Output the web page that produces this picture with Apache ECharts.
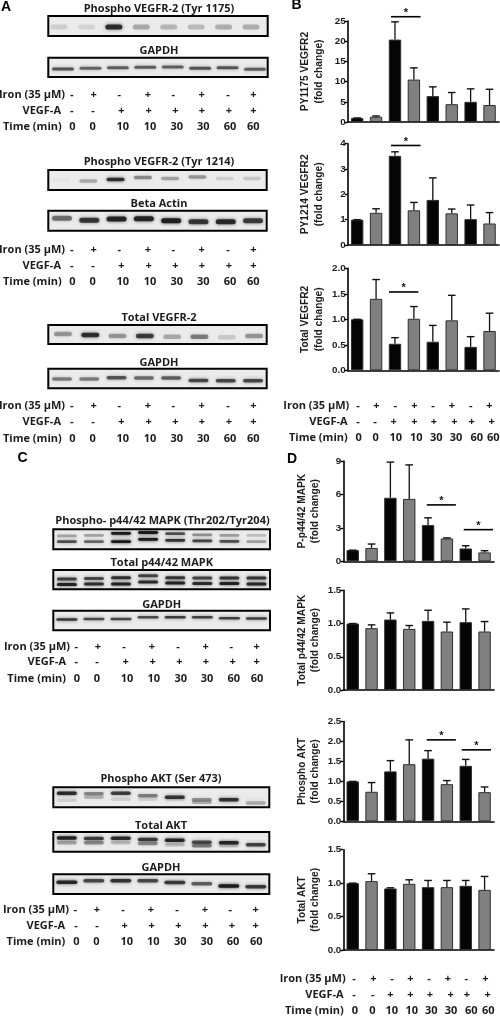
<!DOCTYPE html>
<html><head><meta charset="utf-8">
<style>html,body{margin:0;padding:0;background:#fff}#c{width:500px;height:1017px}</style>
<script src="https://cdn.jsdelivr.net/npm/echarts@6/dist/echarts.min.js"></script>
</head><body><div id="c"></div>
<script>
// ---------- DATA ----------
const lanes = ['0','0','10','10','30','30','60','60'];
const ironRow = ['-','+','-','+','-','+','-','+'];
const vegfRow = ['-','-','+','+','+','+','+','+'];
const timeRow = ['0','0','10','10','30','30','60','60'];

const py1175 = [1,1.3,20.4,10.5,6.4,4.4,5,4.2];
const py1175Err = [1,1.5,24.8,13.4,8.7,7.3,8.2,8.1];
const py1214 = [1,1.27,3.52,1.37,1.78,1.25,1.02,.85];
const py1214Err = [1,1.43,3.68,1.68,2.65,1.42,1.58,1.28];
const totalVegfr = [1,1.4,.52,1.01,.56,.98,.46,.77];
const totalVegfrErr = [1,1.78,.64,1.25,.88,1.47,.66,1.12];
const pMapk = [1,1.2,5.7,5.6,3.25,2.05,1.15,.8];
const pMapkErr = [1,1.55,8.9,8.65,3.9,2.1,1.4,.95];
const totalMapk = [1,.93,1.06,.92,1.04,.88,1.02,.88];
const totalMapkErr = [1,.98,1.16,.97,1.2,1.02,1.22,1.03];
const pAkt = [1,.74,1.25,1.43,1.57,.93,1.39,.73];
const pAktErr = [1,.97,1.52,2.04,1.77,1.02,1.55,.86];
const totalAkt = [1,1.03,.92,.99,.94,.94,.96,.9];
const totalAktErr = [1,1.14,.93,1.05,1.04,1.04,1.04,1.1];

// band darkness per lane, read from the blots
const bandP1175 = [.12,.1,.8,.28,.22,.2,.25,.25];
const bandGapdhA = [.62,.55,.58,.58,.58,.62,.62,.58];
const bandP1214 = [.03,.28,.8,.4,.3,.36,.12,.15];
const bandActin = [.5,.75,.85,.85,.88,.75,.82,.72];
const bandTotalV = [.35,.8,.35,.72,.28,.45,.15,.35];
const bandGapdhB = [.45,.45,.62,.52,.58,.68,.68,.68];
const bandPMapkUp = [.3,.3,.95,.95,.65,.38,.33,.2];
const bandPMapkLow = [.65,.55,.95,.95,.8,.7,.65,.32];
const bandTMapkUp = [.72,.68,.8,.7,.78,.7,.78,.78];
const bandTMapkLow = [.88,.8,.88,.82,.88,.82,.88,.85];
const bandGapdhC = [.78,.68,.7,.68,.75,.72,.72,.72];
const bandPAkt = [.82,.42,.72,.45,.78,.38,.78,.28];
const bandPAktSmear = [.12,.22,.12,.1,.05,.25,.05,.02];
const bandTAkt = [.88,.72,.82,.75,.85,.68,.85,.68];
const bandTAktLow = [.3,.4,.2,.4,.2,.45,.15,.1];
const bandGapdhD = [.85,.68,.78,.68,.75,.58,.92,.75];

// ---------- LAYOUT / STYLE ----------
const BLACK='#050505', GRAY='#808080', EDGE='#2e2e2e';
const LEFTFONT='"Open Sans"', RIGHTFONT='"Liberation Sans"';
const yPosA=[.55,.55,.55,.55,.55,.55,.55,.55];
const blots=[
 {t:'Phospho VEGFR-2 (Tyr 1175)',ty:9,cx:159,box:[48.3,16,219.4,20],dx:-3,w:17,h:5,rows:[{v:bandP1175,y:yPosA}]},
 {t:'GAPDH',ty:51,cx:159,box:[48.3,57.7,219.4,19.3],dx:1,w:22,h:3,rows:[{v:bandGapdhA,y:[.58,.55,.52,.5,.48,.55,.52,.6]}]},
 {t:'Phospho VEGFR-2 (Tyr 1214)',ty:162,cx:159,box:[48.3,170,218.4,20],dx:-1,w:18,h:3.5,rows:[{v:bandP1214,y:[.5,.55,.48,.38,.42,.35,.42,.42]}]},
 {t:'Beta Actin',ty:204.3,cx:159,box:[48.3,210.7,218.4,20],dx:0,w:20,h:5,rows:[{v:bandActin,y:[.38,.48,.42,.4,.5,.55,.55,.5]}]},
 {t:'Total VEGFR-2',ty:318.3,cx:159,box:[48.3,325,218.4,19],dx:1,w:18,h:4.5,rows:[{v:bandTotalV,y:[.48,.52,.58,.58,.62,.62,.65,.58]}]},
 {t:'GAPDH',ty:362.7,cx:159,box:[48.3,368.7,218.4,19.6],dx:0,w:20,h:3.5,rows:[{v:bandGapdhB,y:[.52,.52,.46,.48,.48,.6,.62,.62]}]},
 {t:'Phospho- p44/42 MAPK (Thr202/Tyr204)',ty:520.7,cx:162.5,box:[53.3,529.3,216.7,20],dx:0,w:20,h:2.8,rows:[{v:bandPMapkUp,y:[.33,.3,.2,.16,.22,.28,.3,.3]},{v:bandPMapkLow,y:[.62,.62,.62,.5,.55,.58,.6,.62]}]},
 {t:'Total p44/42 MAPK',ty:562.7,cx:161.7,box:[53.3,570,216.7,19.3],dx:0,w:20,h:3,rows:[{v:bandTMapkUp,y:[.47,.44,.4,.3,.4,.42,.42,.42]},{v:bandTMapkLow,y:[.75,.72,.72,.62,.68,.7,.7,.72]}]},
 {t:'GAPDH',ty:605,cx:161.7,box:[53.3,610.7,216.7,19.6],dx:0,w:21,h:2.5,rows:[{v:bandGapdhC,y:[.45,.42,.42,.34,.34,.34,.38,.4]}]},
 {t:'Phospho AKT (Ser 473)',ty:779,cx:161,box:[53.3,787.3,216,20],dx:0,w:20,h:3.5,rows:[{v:bandPAktSmear,y:[.65,.5,.6,.6,.6,.75,.6,.6]},{v:bandPAkt,y:[.3,.32,.3,.42,.5,.62,.62,.78]}]},
 {t:'Total AKT',ty:826,cx:161,box:[53.3,832,216,19.7],dx:0,w:20,h:3.5,rows:[{v:bandTAktLow,y:[.55,.55,.55,.58,.65,.7,.7,.65]},{v:bandTAkt,y:[.3,.33,.32,.38,.42,.52,.55,.65]}]},
 {t:'GAPDH',ty:868.3,cx:161,box:[53.3,874.3,216,19.7],dx:0,w:21,h:3.5,rows:[{v:bandGapdhD,y:[.4,.33,.33,.33,.42,.48,.6,.63]}]}
];
const rowBlocks=[
 {f:LEFTFONT,ly:[94.7,110.7,126.7],lx:[65,61,61.7],iron:[71.7,93.7,119.3,148,173.3,201.7,228,253.3],vegf:[71.7,93,121.3,148.7,175.3,202,229,253.3],time:[72.3,92.7,122.7,150,176.7,203.3,230,253.3]},
 {f:LEFTFONT,ly:[250,265.7,282.3],lx:[65,61,61.7],iron:[71.7,93.7,119.3,148,173.3,201.7,228,253.3],vegf:[71.7,93,121.3,148.7,175.3,202,229,253.3],time:[72.3,92.7,122.7,150,176.7,203.3,230,253.3]},
 {f:LEFTFONT,ly:[405.7,421.7,438.7],lx:[65,61,61.7],iron:[71.7,93.7,119.3,148,173.3,201.7,228,253.3],vegf:[71.7,93,121.3,148.7,175.3,202,229,253.3],time:[72.3,92.7,122.7,150,176.7,203.3,230,253.3]},
 {f:LEFTFONT,ly:[646.7,662.3,679],lx:[70,66,66],iron:[76.3,98,124,152,178,205.7,231.3,256.7],vegf:[76.3,97,125.7,152.7,179.3,206,232.7,256.7],time:[77,97,127,153.7,180.7,207,233.7,257]},
 {f:LEFTFONT,ly:[910,925.7,942],lx:[69,65,65.3],iron:[75.3,97,123,151,177,205,230.3,255.7],vegf:[76,97,124.7,151.7,178.3,205.3,232,255.7],time:[76.3,96.3,126.7,153.3,180.3,206.7,233,256.3]},
 {f:LEFTFONT,ly:[406,422,438.3],lx:[349.3,347.7,347.7],iron:[358,376.3,395.3,414.3,433,452,470.7,489.3],vegf:[358,375,393.7,414.3,434,454.3,471.7,491.7],time:[358.7,375.7,395.7,416.3,436.3,456,476.7,493.3]},
 {f:LEFTFONT,ly:[979.3,995.3,1011],lx:[345.7,343.7,343.7],iron:[354,373.3,392,410.3,429,448,466.3,485.3],vegf:[354,372.7,390.3,410.3,430,450.7,467,487.7],time:[355,372.3,391.7,411.7,431.3,451,471.3,488.3]}
];
const letters=[['A',6,7],['B',296.5,5],['C',22.5,458.5],['D',292,459]];
const plots=[
 {name:'PY1175 VEGFR2\n(fold change)',v:py1175,e:py1175Err,max:25,step:5,dec:0,box:[347.7,21,151.3,101],gap:22,
  sig:[[2,3,26.06]],sigOff:[[-4,6.7]]},
 {name:'PY1214 VEGFR2\n(fold change)',v:py1214,e:py1214Err,max:4,step:1,dec:0,box:[347.7,143.7,151.3,101.3],gap:22,
  sig:[[2,3,3.93]],sigOff:[[-4,6.7]]},
 {name:'Total VEGFR2\n(fold change)',v:totalVegfr,e:totalVegfrErr,max:2,step:.5,dec:1,box:[347.7,268.3,151.3,102],gap:22,
  sig:[[2,3,1.536]],sigOff:[[-6,4.4]]},
 {name:'P-p44/42 MAPK\n(fold change)',v:pMapk,e:pMapkErr,max:9,step:3,dec:0,box:[343.3,461,150.7,100.3],gap:21,
  sig:[[4,5,5.06],[6,7,2.84]],sigOff:[[-1.3,9],[-2,8.4]]},
 {name:'Total p44/42 MAPK\n(fold change)',v:totalMapk,e:totalMapkErr,max:1.5,step:.5,dec:1,box:[343.3,590.3,150.7,99.7],gap:21,sig:[],sigOff:[]},
 {name:'Phospho AKT\n(fold change)',v:pAkt,e:pAktErr,max:2.5,step:.5,dec:1,box:[343.3,721.5,150.7,99.8],gap:21,
  sig:[[4,5,2.04],[6,7,1.79]],sigOff:[[-1.3,9],[-4,6.4]]},
 {name:'Total AKT\n(fold change)',v:totalAkt,e:totalAktErr,max:1.5,step:.5,dec:1,box:[343.3,849.7,150.7,100.3],gap:21,sig:[],sigOff:[]}
];

// ---------- BUILD ----------
const grids=[],xAxes=[],yAxes=[],series=[],gfx=[];
const TXT='#1c1c1c';
function text(s,x,y,o){gfx.push({type:'text',silent:true,z:20,style:Object.assign({text:s,x:x,y:y,fill:TXT,fontWeight:'bold',fontSize:10,fontFamily:LEFTFONT,textAlign:'center',textVerticalAlign:'middle'},o||{})});}

plots.forEach(p=>{
 const i=grids.length;
 grids.push({left:p.box[0],top:p.box[1],width:p.box[2],height:p.box[3],containLabel:false});
 xAxes.push({type:'category',gridIndex:i,data:lanes,axisLabel:{show:false},
  axisLine:{lineStyle:{color:'#000',width:1.6}},axisTick:{alignWithLabel:true,length:2.5,lineStyle:{color:'#000',width:1.2}}});
 yAxes.push({type:'value',gridIndex:i,min:0,max:p.max,interval:p.step,splitLine:{show:false},
  name:p.name,nameLocation:'middle',nameRotate:90,nameGap:p.gap,
  nameTextStyle:{fontFamily:RIGHTFONT,fontWeight:'bold',fontSize:10.2,color:TXT,lineHeight:13.5},
  axisLine:{show:true,lineStyle:{color:'#000',width:1.6}},axisTick:{show:true,length:3,lineStyle:{color:'#000',width:1.4}},
  axisLabel:{margin:2,fontFamily:RIGHTFONT,fontWeight:'bold',fontSize:9.8,color:TXT,formatter:v=>v.toFixed(p.dec)}});
 series.push({type:'bar',xAxisIndex:i,yAxisIndex:i,data:p.v,barWidth:12.4,silent:true,animation:false,
  itemStyle:{color:c=>c.dataIndex%2?GRAY:BLACK,borderColor:EDGE,borderWidth:1}});
 series.push({type:'custom',xAxisIndex:i,yAxisIndex:i,silent:true,animation:false,z:3,
  data:p.e.map((e,k)=>[k,p.v[k],e]),encode:{x:0,y:2},
  renderItem:(ps,api)=>{
   const a=api.coord([api.value(0),api.value(1)]),b=api.coord([api.value(0),api.value(2)]);
   return {type:'group',children:[
    {type:'line',shape:{x1:a[0],y1:a[1],x2:b[0],y2:b[1]},style:{stroke:'#111',lineWidth:1.3}},
    {type:'line',shape:{x1:b[0]-3.8,y1:b[1],x2:b[0]+3.8,y2:b[1]},style:{stroke:'#111',lineWidth:1.4}}]};
  }});
 if(p.sig.length) series.push({type:'custom',xAxisIndex:i,yAxisIndex:i,silent:true,animation:false,z:4,
  data:p.sig,encode:{x:0,y:2},
  renderItem:(ps,api)=>{
   const off=p.sigOff[ps.dataIndex];
   const a=api.coord([api.value(0),api.value(2)]),b=api.coord([api.value(1),api.value(2)]);
   const x1=a[0]+off[0],x2=b[0]+off[1],y=a[1];
   return {type:'group',children:[
    {type:'line',shape:{x1:x1,y1:y,x2:x2,y2:y},style:{stroke:'#000',lineWidth:1.6}},
    {type:'text',style:{text:'*',x:(x1+x2)/2,y:y+2,fill:'#111',fontSize:11,fontWeight:'bold',fontFamily:RIGHTFONT,textAlign:'center',textVerticalAlign:'bottom'}}]};
  }});
});

blots.forEach(b=>{
 const i=grids.length;
 grids.push({show:true,left:b.box[0],top:b.box[1],width:b.box[2],height:b.box[3],backgroundColor:'#ebebeb',borderColor:'#000',borderWidth:2});
 xAxes.push({type:'category',gridIndex:i,show:false,data:lanes});
 yAxes.push({type:'value',gridIndex:i,show:false,min:0,max:1,inverse:true,splitLine:{show:false}});
 b.rows.forEach(r=>{
  series.push({type:'custom',xAxisIndex:i,yAxisIndex:i,silent:true,animation:false,
   data:r.v.map((v,k)=>[k,r.y[k],v]),encode:{x:0,y:1},
   renderItem:(ps,api)=>{
    const c=api.coord([api.value(0),api.value(1)]),d=api.value(2);
    const col='rgba(20,20,20,'+d+')';
    return {type:'rect',shape:{x:c[0]+b.dx-b.w/2,y:c[1]-b.h/2,width:b.w,height:b.h,r:b.h/2},
     style:{fill:col,shadowBlur:3.5,shadowColor:col}};
   }});
 });
 text(b.t,b.cx,b.ty,{fontSize:11});
});

rowBlocks.forEach(r=>{
 const f={fontFamily:r.f,fontSize:11};
 ['Iron (35 µM)','VEGF-A','Time (min)'].forEach((s,k)=>text(s,r.lx[k],r.ly[k],Object.assign({textAlign:'right'},f)));
 ironRow.forEach((s,k)=>text(s,r.iron[k],r.ly[0],f));
 vegfRow.forEach((s,k)=>text(s,r.vegf[k],r.ly[1],f));
 timeRow.forEach((s,k)=>text(s,r.time[k],r.ly[2],f));
});
letters.forEach(l=>text(l[0],l[1],l[2],{fontFamily:RIGHTFONT,fontSize:14,fontWeight:'bold',fill:'#000'}));

const chart=echarts.init(document.getElementById('c'),null,{renderer:'canvas'});
chart.setOption({animation:false,backgroundColor:'#fff',grid:grids,xAxis:xAxes,yAxis:yAxes,series:series,graphic:{elements:gfx}});
</script></body></html>
